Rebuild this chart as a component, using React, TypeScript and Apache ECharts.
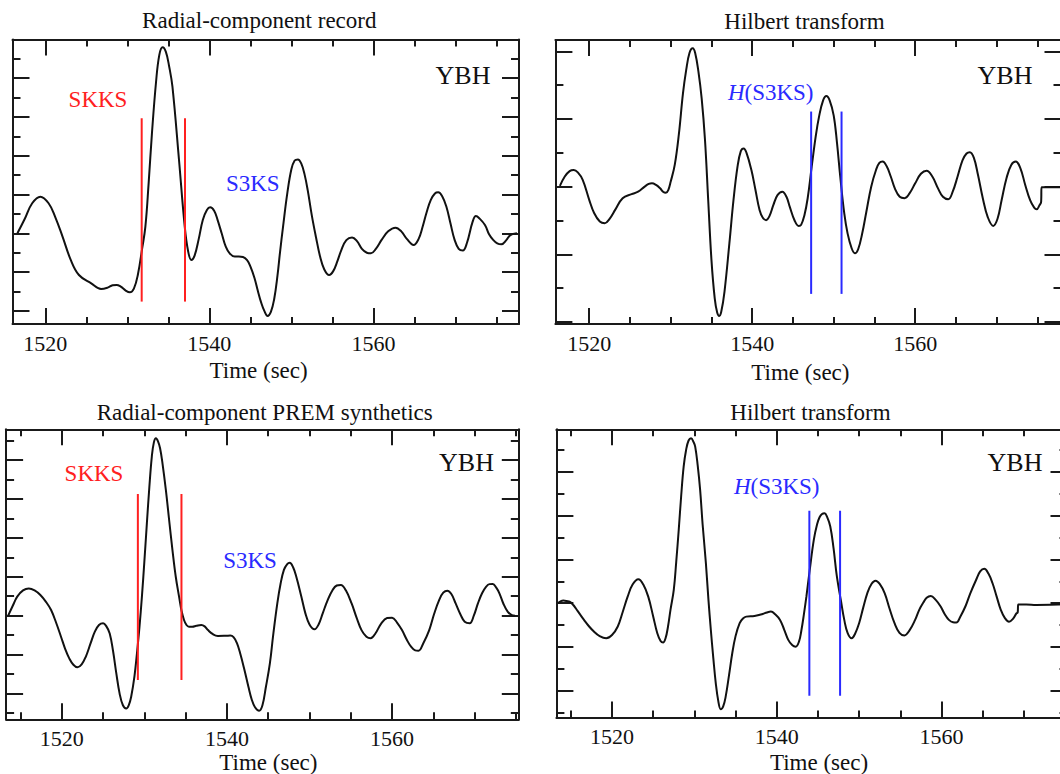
import React, { useEffect, useRef } from 'react';
import * as echarts from 'echarts';

const FONT = "'Liberation Serif', 'Times New Roman', Times, serif";

// ---- Data: [time (sec), amplitude (tick units)] ----
const recordTrace: number[][] = [
  [1516.6, 0.0], [1517.5, 0.75], [1518.4, 1.55], [1519.4, 1.89], [1520.4, 1.55], [1521.2, 0.85],
  [1522.1, -0.17], [1523.1, -1.37], [1524.1, -2.15], [1525.6, -2.58], [1526.8, -2.87], [1527.6, -2.8],
  [1528.2, -2.68], [1528.7, -2.66], [1529.2, -2.75], [1529.8, -2.95], [1530.3, -3.04], [1530.8, -2.85],
  [1531.3, -2.1], [1531.8, -0.8], [1532.2, 0.34], [1532.6, 2.6], [1533.0, 5.15], [1533.5, 7.8],
  [1533.9, 9.2], [1534.3, 9.59], [1534.7, 9.35], [1535.1, 8.6], [1535.5, 7.56], [1536.3, 3.78],
  [1537.0, 0.34], [1537.4, -0.9], [1537.8, -1.37], [1538.2, -1.15], [1538.7, -0.3], [1539.2, 0.69],
  [1539.7, 1.2], [1540.1, 1.34], [1540.6, 1.15], [1541.0, 0.69], [1541.5, 0.0], [1542.0, -0.69],
  [1542.5, -1.05], [1543.1, -1.2], [1543.6, -1.2], [1544.1, -1.22], [1544.6, -1.38], [1545.0, -1.7],
  [1545.5, -2.3], [1545.9, -2.95], [1546.3, -3.55], [1546.7, -4.0], [1547.1, -4.26], [1547.5, -4.05],
  [1547.9, -3.4], [1548.3, -2.2], [1548.6, -1.03], [1549.0, 0.4], [1549.5, 2.06], [1550.0, 3.3],
  [1550.4, 3.75], [1550.8, 3.81], [1551.2, 3.6], [1551.6, 3.05], [1552.0, 2.2], [1552.5, 0.9],
  [1553.0, -0.2], [1553.5, -1.2], [1554.0, -1.85], [1554.6, -2.15], [1555.1, -1.95], [1555.6, -1.45],
  [1556.1, -0.85], [1556.7, -0.35], [1557.4, -0.21], [1558.0, -0.4], [1558.6, -0.8], [1559.2, -1.0],
  [1559.7, -1.03], [1560.3, -0.8], [1561.0, -0.34], [1561.8, 0.1], [1562.7, 0.29], [1563.4, 0.1],
  [1564.1, -0.3], [1564.9, -0.6], [1565.5, -0.3], [1566.0, 0.34], [1566.5, 1.1], [1567.0, 1.72],
  [1567.5, 2.05], [1567.9, 2.11], [1568.4, 1.9], [1568.9, 1.37], [1569.4, 0.5], [1569.9, -0.34],
  [1570.4, -0.8], [1570.9, -0.89], [1571.4, -0.5], [1572.1, 0.6], [1572.5, 0.89], [1572.9, 0.78],
  [1573.6, 0.43], [1574.1, -0.05], [1574.6, -0.34], [1575.1, -0.52], [1575.6, -0.57], [1576.2, -0.35],
  [1576.7, -0.09], [1577.5, 0.0],
];

const recordHilbert: number[][] = [
  [1516.4, 0.02], [1517.0, 0.3], [1517.6, 0.46], [1518.1, 0.49], [1518.6, 0.42], [1519.2, 0.2],
  [1520.0, -0.39], [1520.6, -0.78], [1521.3, -1.03], [1521.9, -1.08], [1522.5, -0.95], [1523.2, -0.68],
  [1524.1, -0.34], [1525.2, -0.22], [1526.0, -0.15], [1526.8, 0.0], [1527.3, 0.08], [1527.7, 0.1],
  [1528.2, 0.05], [1528.7, -0.05], [1529.1, -0.16], [1529.4, -0.18], [1529.7, -0.1], [1530.0, 0.15],
  [1530.5, 0.65], [1531.0, 1.55], [1531.5, 2.75], [1531.9, 3.45], [1532.3, 3.95], [1532.7, 4.09],
  [1533.0, 3.95], [1533.4, 3.4], [1533.8, 2.6], [1534.2, 1.4], [1534.6, -0.4], [1535.0, -2.17],
  [1535.4, -3.3], [1535.7, -3.72], [1535.95, -3.82], [1536.2, -3.7], [1536.6, -3.1], [1537.2, -1.67],
  [1537.7, -0.4], [1538.2, 0.6], [1538.6, 1.05], [1538.95, 1.13], [1539.3, 1.0], [1539.9, 0.49],
  [1540.4, -0.1], [1540.9, -0.69], [1541.3, -0.92], [1541.7, -0.99], [1542.1, -0.88], [1542.6, -0.54],
  [1543.1, -0.25], [1543.7, -0.15], [1544.2, -0.3], [1544.6, -0.59], [1545.2, -1.0], [1545.7, -1.16],
  [1546.0, -1.13], [1546.4, -0.85], [1546.8, -0.35], [1547.3, 0.59], [1547.8, 1.5], [1548.2, 2.07],
  [1548.7, 2.55], [1549.1, 2.68], [1549.5, 2.55], [1550.0, 2.1], [1550.4, 1.3], [1550.8, 0.3],
  [1551.3, -0.8], [1551.7, -1.38], [1552.2, -1.82], [1552.6, -1.97], [1553.0, -1.85], [1553.5, -1.38],
  [1554.0, -0.75], [1554.6, 0.0], [1555.2, 0.5], [1555.6, 0.7], [1556.0, 0.74], [1556.5, 0.6],
  [1557.0, 0.3], [1557.5, -0.05], [1558.1, -0.3], [1558.7, -0.34], [1559.3, -0.2], [1560.0, 0.1],
  [1560.7, 0.38], [1561.4, 0.47], [1562.1, 0.3], [1562.8, -0.05], [1563.4, -0.3], [1564.05, -0.37],
  [1564.6, -0.15], [1565.2, 0.3], [1565.8, 0.78], [1566.3, 0.98], [1566.7, 1.02], [1567.2, 0.85],
  [1567.7, 0.35], [1568.3, -0.35], [1568.9, -0.9], [1569.57, -1.16], [1570.1, -0.95], [1570.6, -0.4],
  [1571.2, 0.25], [1571.8, 0.65], [1572.35, 0.74], [1572.9, 0.55], [1573.5, 0.05], [1574.1, -0.4],
  [1574.6, -0.62], [1574.9, -0.67], [1575.25, -0.55], [1575.45, -0.45], [1575.5, -0.02], [1577.95, -0.02],
];

const synthTrace: number[][] = [
  [1513.5, 0.0], [1514.1, 0.55], [1514.6, 0.98], [1515.3, 1.3], [1516.0, 1.4], [1516.7, 1.3],
  [1517.4, 1.06], [1518.1, 0.7], [1518.7, 0.29], [1519.3, -0.35], [1519.9, -1.08], [1520.4, -1.7],
  [1520.9, -2.19], [1521.4, -2.52], [1521.9, -2.65], [1522.4, -2.5], [1522.9, -2.11], [1523.5, -1.4],
  [1524.0, -0.82], [1524.5, -0.48], [1525.0, -0.39], [1525.4, -0.55], [1525.8, -0.91], [1526.2, -1.8],
  [1526.6, -2.96], [1527.0, -4.0], [1527.4, -4.6], [1527.8, -4.76], [1528.1, -4.6], [1528.4, -4.16],
  [1528.8, -3.1], [1529.1, -1.93], [1529.4, -0.6], [1529.7, 0.98], [1530.0, 2.8], [1530.3, 4.74],
  [1530.6, 6.6], [1530.9, 8.17], [1531.15, 8.9], [1531.4, 9.11], [1531.65, 8.95], [1531.9, 8.6],
  [1532.2, 7.8], [1532.6, 6.46], [1533.0, 4.9], [1533.4, 3.37], [1533.8, 2.0], [1534.2, 0.98],
  [1534.5, 0.25], [1534.8, -0.22], [1535.1, -0.48], [1535.4, -0.57], [1535.8, -0.57], [1536.3, -0.52],
  [1536.9, -0.48], [1537.3, -0.55], [1537.7, -0.74], [1538.3, -0.95], [1538.9, -1.04], [1539.9, -1.03],
  [1540.4, -1.02], [1540.8, -1.1], [1541.2, -1.4], [1541.6, -1.93], [1542.1, -2.75], [1542.6, -3.65],
  [1543.0, -4.3], [1543.4, -4.7], [1543.9, -4.88], [1544.3, -4.6], [1544.7, -3.7], [1545.2, -2.45],
  [1545.6, -1.0], [1546.1, 0.63], [1546.5, 1.65], [1546.9, 2.35], [1547.3, 2.65], [1547.6, 2.72],
  [1548.0, 2.5], [1548.4, 2.0], [1549.0, 1.0], [1549.5, 0.12], [1550.0, -0.45], [1550.6, -0.7],
  [1551.1, -0.45], [1551.6, 0.12], [1552.2, 0.8], [1552.8, 1.32], [1553.3, 1.55], [1553.8, 1.58],
  [1554.4, 1.3], [1555.1, 0.63], [1555.7, -0.1], [1556.3, -0.74], [1556.9, -1.08], [1557.4, -1.16],
  [1558.0, -0.9], [1558.7, -0.39], [1559.4, -0.12], [1560.0, -0.1], [1560.6, -0.35], [1561.2, -0.74],
  [1561.8, -1.25], [1562.3, -1.59], [1562.8, -1.78], [1563.2, -1.8], [1563.8, -1.4], [1564.5, -0.74],
  [1565.1, 0.1], [1565.7, 0.8], [1566.2, 1.18], [1566.7, 1.28], [1567.2, 1.1], [1567.7, 0.63],
  [1568.3, 0.05], [1568.8, -0.31], [1569.4, -0.39], [1569.9, 0.0], [1570.4, 0.63], [1570.9, 1.15],
  [1571.4, 1.49], [1571.8, 1.62], [1572.2, 1.63], [1572.6, 1.45], [1573.0, 1.15], [1573.5, 0.6],
  [1574.0, 0.21], [1574.5, 0.03], [1574.9, 0.0],
];

const synthHilbert: number[][] = [
  [1513.4, 0.0], [1513.8, 0.1], [1514.1, 0.12], [1514.5, 0.1], [1514.9, 0.06], [1515.3, -0.08],
  [1515.6, -0.23], [1516.1, -0.5], [1516.6, -0.76], [1517.2, -1.05], [1517.8, -1.29], [1518.5, -1.5],
  [1519.3, -1.6], [1520.0, -1.45], [1520.7, -1.06], [1521.3, -0.4], [1521.9, 0.3], [1522.5, 0.85],
  [1523.2, 1.09], [1523.8, 0.85], [1524.4, 0.3], [1525.0, -0.6], [1525.5, -1.37], [1525.9, -1.72],
  [1526.2, -1.79], [1526.5, -1.6], [1526.8, -1.06], [1527.1, -0.3], [1527.5, 0.61], [1527.8, 1.9],
  [1528.1, 3.34], [1528.4, 4.9], [1528.7, 6.23], [1529.0, 7.0], [1529.3, 7.42], [1529.6, 7.52],
  [1529.9, 7.35], [1530.1, 7.14], [1530.4, 6.3], [1530.7, 5.17], [1531.0, 3.6], [1531.4, 1.82],
  [1531.7, 0.2], [1532.0, -1.22], [1532.3, -2.5], [1532.6, -3.65], [1532.9, -4.45], [1533.2, -4.83],
  [1533.5, -4.7], [1533.8, -4.26], [1534.2, -3.3], [1534.6, -2.28], [1535.0, -1.5], [1535.5, -0.91],
  [1535.9, -0.7], [1536.3, -0.61], [1537.3, -0.58], [1538.3, -0.49], [1538.8, -0.42], [1539.3, -0.38],
  [1539.8, -0.5], [1540.4, -0.76], [1540.9, -1.2], [1541.4, -1.67], [1541.9, -1.92], [1542.3, -1.98],
  [1542.7, -1.75], [1543.0, -1.22], [1543.3, -0.5], [1543.6, 0.3], [1544.0, 1.5], [1544.5, 2.89],
  [1544.9, 3.6], [1545.2, 3.92], [1545.5, 4.07], [1545.8, 4.1], [1546.1, 3.95], [1546.5, 3.5],
  [1546.9, 2.5], [1547.3, 1.22], [1547.8, 0.1], [1548.2, -0.76], [1548.6, -1.35], [1549.1, -1.6],
  [1549.5, -1.4], [1550.0, -0.91], [1550.5, -0.2], [1551.0, 0.46], [1551.5, 0.88], [1552.0, 1.03],
  [1552.5, 0.88], [1553.1, 0.46], [1553.7, -0.25], [1554.3, -0.91], [1554.9, -1.35], [1555.5, -1.47],
  [1556.1, -1.25], [1556.8, -0.76], [1557.3, -0.3], [1557.8, 0.03], [1558.2, 0.25], [1558.7, 0.33],
  [1559.3, 0.15], [1559.9, -0.15], [1560.4, -0.5], [1560.9, -0.76], [1561.4, -0.87], [1561.8, -0.88],
  [1562.3, -0.6], [1562.9, -0.15], [1563.5, 0.45], [1564.2, 1.06], [1564.7, 1.45], [1565.2, 1.57],
  [1565.7, 1.35], [1566.2, 0.91], [1566.7, 0.3], [1567.2, -0.3], [1567.7, -0.68], [1568.2, -0.84],
  [1568.7, -0.7], [1569.1, -0.46], [1569.25, -0.42], [1569.32, -0.06], [1570.3, -0.06], [1571.5, -0.08],
  [1575.3, -0.05],
];

// Phase window picks: start/end times and the vertical extent of each bar
const recordSKKSWindow = [1531.75, 1537.03];
const recordSKKSSpan = [-3.52, 5.93];
const recordS3KSWindow = [1547.23, 1550.96];
const recordS3KSSpan = [-3.17, 2.22];
const synthSKKSWindow = [1529.21, 1534.49];
const synthSKKSSpan = [-3.3, 6.25];
const synthS3KSWindow = [1543.96, 1547.69];
const synthS3KSSpan = [-4.22, 4.22];

// Tick values
const xTickLabels = [1520, 1540, 1560];
const xMinorTicks = [1515, 1525, 1530, 1535, 1545, 1550, 1555, 1565, 1570, 1575];
const yLongTicks = [-4, -2, 0, 2, 4, 6, 8];
const yShortTicks = [-5, -3, -1, 1, 3, 5, 7, 9];

const panelTitles = [
  'Radial-component record',
  'Hilbert transform',
  'Radial-component PREM synthetics',
  'Hilbert transform',
];
const stationName = 'YBH';
const xAxisTitle = 'Time (sec)';

// ---- Layout (pixels / axis extents) ----
const panels = [
  { left: 12.5, top: 39.5, width: 506.5, height: 284.5, xMin: 1516, xMax: 1577.75, yMin: -4.675, yMax: 9.99 },
  { left: 555.4, top: 40, width: 506.1, height: 284, xMin: 1515.85, xMax: 1577.95, yMin: -4.06, yMax: 4.335 },
  { left: 6.1, top: 429.3, width: 512.7, height: 290, xMin: 1513.25, xMax: 1575.35, yMin: -5.32, yMax: 9.57 },
  { left: 556.4, top: 429.3, width: 511.1, height: 288.2, xMin: 1513.25, xMax: 1575.3, yMin: -5.21, yMax: 7.93 },
];

const AX = '#1a1a1a';
const RED = '#ff2020';
const BLUE = '#2a2aff';

function inRange(vals: number[], a: number, b: number) {
  return vals.filter((v) => v > a + 0.05 && v < b - 0.05);
}

function buildAxes(gi: number, p: any) {
  const lineStyle = { color: AX, width: 2 };
  const xBase = {
    type: 'value', gridIndex: gi, min: p.xMin, max: p.xMax, silent: true,
    splitLine: { show: false }, axisLabel: { show: false },
  };
  const yBase = {
    type: 'value', gridIndex: gi, min: p.yMin, max: p.yMax, silent: true,
    splitLine: { show: false }, axisLabel: { show: false },
  };
  const xLong = inRange(xTickLabels, p.xMin, p.xMax);
  const xShort = inRange(xMinorTicks, p.xMin, p.xMax);
  const yL = inRange(yLongTicks, p.yMin, p.yMax);
  const yS = inRange(yShortTicks, p.yMin, p.yMax);
  const xAxes = [
    {
      ...xBase, position: 'bottom',
      axisLine: { show: true, onZero: false, lineStyle },
      axisTick: { show: true, inside: true, length: 16, lineStyle, customValues: xLong },
      axisLabel: {
        show: true, customValues: xTickLabels, margin: 8, color: '#111',
        fontFamily: FONT, fontSize: 22, formatter: (v: number) => String(v),
      },
    },
    {
      ...xBase, position: 'bottom',
      axisLine: { show: false, onZero: false },
      axisTick: { show: true, inside: true, length: 7, lineStyle, customValues: xShort },
    },
    {
      ...xBase, position: 'top',
      axisLine: { show: true, onZero: false, lineStyle },
      axisTick: { show: true, inside: true, length: 16, lineStyle, customValues: xLong },
    },
    {
      ...xBase, position: 'top',
      axisLine: { show: false, onZero: false },
      axisTick: { show: true, inside: true, length: 7, lineStyle, customValues: xShort },
    },
  ];
  const yAxes = [
    {
      ...yBase, position: 'left',
      axisLine: { show: true, onZero: false, lineStyle },
      axisTick: { show: true, inside: true, length: 17, lineStyle, customValues: yL },
    },
    {
      ...yBase, position: 'left',
      axisLine: { show: false, onZero: false },
      axisTick: { show: true, inside: true, length: 8, lineStyle, customValues: yS },
    },
    {
      ...yBase, position: 'right',
      axisLine: { show: true, onZero: false, lineStyle },
      axisTick: { show: true, inside: true, length: 17, lineStyle, customValues: yL },
    },
    {
      ...yBase, position: 'right',
      axisLine: { show: false, onZero: false },
      axisTick: { show: true, inside: true, length: 8, lineStyle, customValues: yS },
    },
  ];
  return { xAxes, yAxes };
}

function waveSeries(gi: number, data: number[][]) {
  return {
    type: 'line', xAxisIndex: gi * 4, yAxisIndex: gi * 4, data,
    showSymbol: false, symbol: 'none', smooth: 0.4, silent: true,
    lineStyle: { color: '#111', width: 2 },
  };
}

function pickSeries(gi: number, times: number[], span: number[], color: string) {
  return times.map((t) => ({
    type: 'line', xAxisIndex: gi * 4, yAxisIndex: gi * 4,
    data: [[t, span[0]], [t, span[1]]],
    showSymbol: false, symbol: 'none', silent: true,
    lineStyle: { color, width: 2 },
  }));
}

function txt(x: number, y: number, text: string, size: number, fill = '#111', extra: any = {}) {
  return {
    type: 'text', x, y, silent: true,
    style: {
      text, fill, font: `${size}px ${FONT}`,
      textAlign: 'center', textVerticalAlign: 'middle', align: 'center', verticalAlign: 'middle',
      ...extra,
    },
  };
}

function richRoman(size: number, fill: string) {
  return { font: `${size}px ${FONT}`, fontSize: size, fontFamily: FONT, fill };
}

function phaseLabel(x: number, y: number, name: string, color: string) {
  return txt(x, y, `{n|${name}}`, 23, color, { rich: { n: richRoman(23, color) } });
}

function hLabel(x: number, y: number) {
  return txt(x, y, '{i|H}{n|(S3KS)}', 23, BLUE, {
    rich: {
      i: { font: `italic 23px ${FONT}`, fontStyle: 'italic', fontSize: 23, fontFamily: FONT, fill: BLUE },
      n: richRoman(23, BLUE),
    },
  });
}

export default function App() {
  const ref = useRef<HTMLDivElement>(null);
  useEffect(() => {
    document.documentElement.style.overflow = 'hidden';
    document.body.style.margin = '0';
    if (!ref.current) return;
    const chart = echarts.init(ref.current, null, { renderer: 'svg' });
    const xAxis: any[] = [];
    const yAxis: any[] = [];
    panels.forEach((p, gi) => {
      const a = buildAxes(gi, p);
      xAxis.push(...a.xAxes);
      yAxis.push(...a.yAxes);
    });
    const grid = panels.map((p) => ({
      left: p.left, top: p.top, width: p.width, height: p.height,
      show: false, containLabel: false, outerBoundsMode: 'none',
    }));
    const series: any[] = [
      waveSeries(0, recordTrace),
      waveSeries(1, recordHilbert),
      waveSeries(2, synthTrace),
      waveSeries(3, synthHilbert),
      ...pickSeries(0, recordSKKSWindow, recordSKKSSpan, RED),
      ...pickSeries(1, recordS3KSWindow, recordS3KSSpan, BLUE),
      ...pickSeries(2, synthSKKSWindow, synthSKKSSpan, RED),
      ...pickSeries(3, synthS3KSWindow, synthS3KSSpan, BLUE),
    ];
    const graphic = [
      txt(259.3, 20, panelTitles[0], 23),
      txt(804.5, 21.5, panelTitles[1], 23),
      txt(264.7, 412.7, panelTitles[2], 23),
      txt(810.5, 412.7, panelTitles[3], 23),
      txt(258.6, 370, xAxisTitle, 23),
      txt(800.4, 372, xAxisTitle, 23),
      txt(268.4, 762.5, xAxisTitle, 23),
      txt(819, 762.5, xAxisTitle, 23),
      txt(463, 75, stationName, 26),
      txt(1005, 75, stationName, 26),
      txt(466.5, 462.7, stationName, 26),
      txt(1015, 462.7, stationName, 26),
      phaseLabel(98, 99, 'SKKS', RED),
      phaseLabel(252.8, 183, 'S3KS', BLUE),
      phaseLabel(94, 473.3, 'SKKS', RED),
      phaseLabel(250, 560, 'S3KS', BLUE),
      hLabel(770.7, 92),
      hLabel(776.7, 486.7),
    ];
    chart.setOption({
      animation: false,
      backgroundColor: '#ffffff',
      textStyle: { fontFamily: FONT },
      grid, xAxis, yAxis, series, graphic,
    });
    return () => chart.dispose();
  }, []);
  return (
    <div
      ref={ref}
      style={{ position: 'fixed', left: 0, top: 0, width: 1080, height: 774, background: '#fff' }}
    />
  );
}
